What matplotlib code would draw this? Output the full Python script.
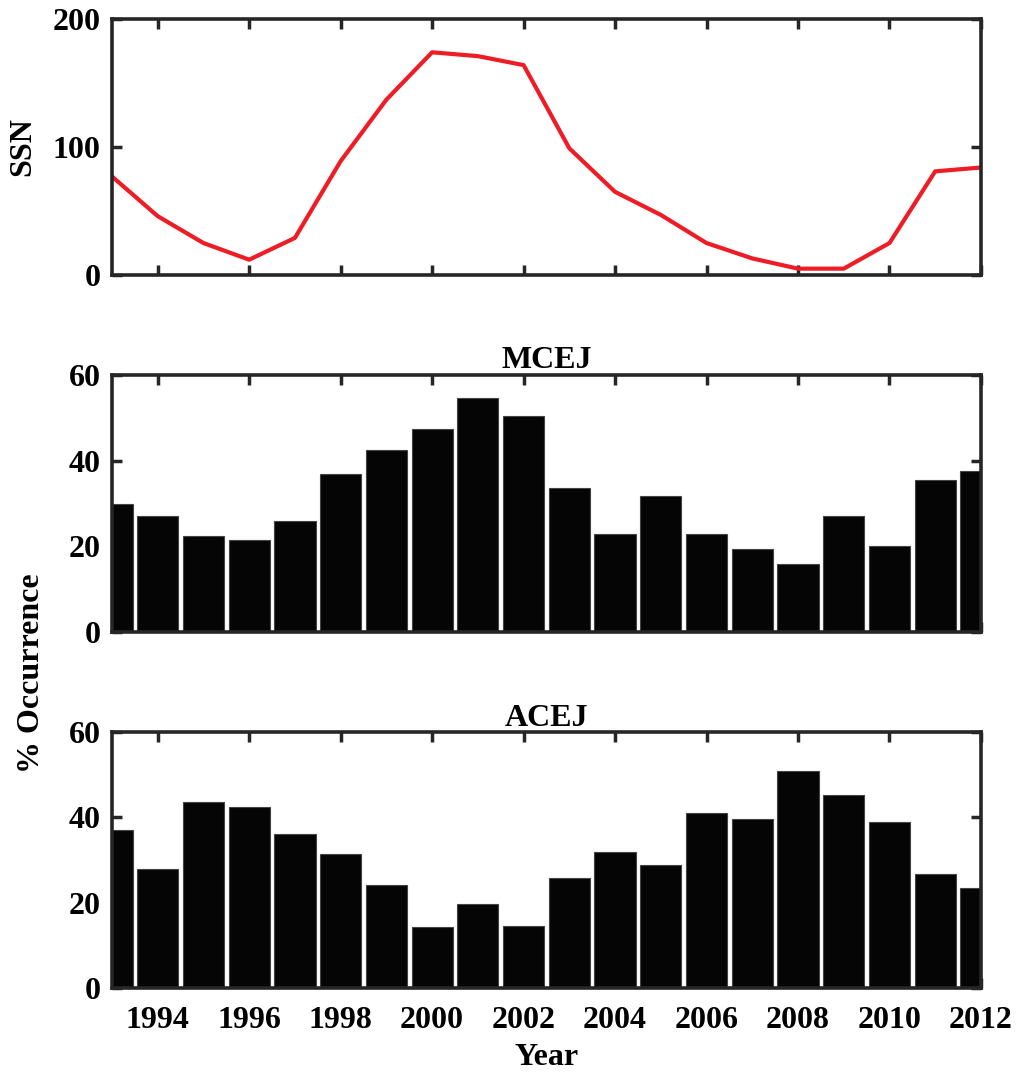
import matplotlib
matplotlib.use('Agg')
import matplotlib.pyplot as plt

plt.rcParams['font.family'] = ['Liberation Serif', 'DejaVu Serif']
plt.rcParams['font.weight'] = 'bold'

years = list(range(1993, 2013))
ssn = [77, 46, 25, 12, 29, 89, 137, 174, 171, 164, 99, 65, 47, 25, 13, 5, 5, 25, 81, 84]
mcej = [30, 27, 22.4, 21.5, 26, 37, 42.5, 47.4, 54.7, 50.5, 33.6, 23, 31.8, 23, 19.3, 16, 27.2, 20, 35.5, 37.5]
acej = [37, 27.9, 43.5, 42.3, 36, 31.4, 24.1, 14.4, 19.7, 14.6, 25.7, 31.8, 28.8, 41, 39.6, 50.8, 45.2, 39, 26.8, 23.4]
xticks = list(range(1994, 2013, 2))
fs = 23

fig = plt.figure(figsize=(10.18, 10.74), dpi=100)
ax1 = fig.add_axes([0.110, 0.7439, 0.8536, 0.2384])
ax2 = fig.add_axes([0.110, 0.4115, 0.8536, 0.2393])
ax3 = fig.add_axes([0.110, 0.0801, 0.8536, 0.2384])

def style(ax, yticks):
    ax.set_xlim(1993, 2012)
    ax.set_xticks(xticks)
    ax.set_yticks(yticks)
    ax.set_ylim(yticks[0], yticks[-1])
    ax.tick_params(direction='in', top=True, right=True, length=7, width=2.5,
                   color='#262626', labelsize=fs)
    ax.tick_params(axis='y', pad=8)
    ax.tick_params(axis='x', pad=13)
    for s in ax.spines.values():
        s.set_linewidth(2.6)
        s.set_color('#262626')
        s.set_zorder(5)

ax1.plot(years, ssn, color='#ee1c25', lw=3)
style(ax1, [0, 100, 200])
ax1.set_xticklabels([])
ax1.set_ylabel('SSN', fontsize=fs, fontweight='bold')
ax1.yaxis.set_label_coords(-0.086, 0.5)

# bars sit on top of the tick marks, spines stay on top
for ax, vals, name in [(ax2, mcej, 'MCEJ'), (ax3, acej, 'ACEJ')]:
    ax.bar(years, vals, width=0.9, color='#050505', edgecolor='#444444', lw=0.8)
    style(ax, [0, 20, 40, 60])
    ax.set_axisbelow(True)
    ax.set_title(name, fontsize=fs, fontweight='bold', pad=4)

ax2.set_xticklabels([])
ax3.set_xlabel('Year', fontsize=fs, fontweight='bold', labelpad=6)

fig.text(0.031, 0.373, '% Occurrence', rotation=90, fontsize=fs,
         fontweight='bold', ha='center', va='center')

fig.savefig('out.png', dpi=100)
